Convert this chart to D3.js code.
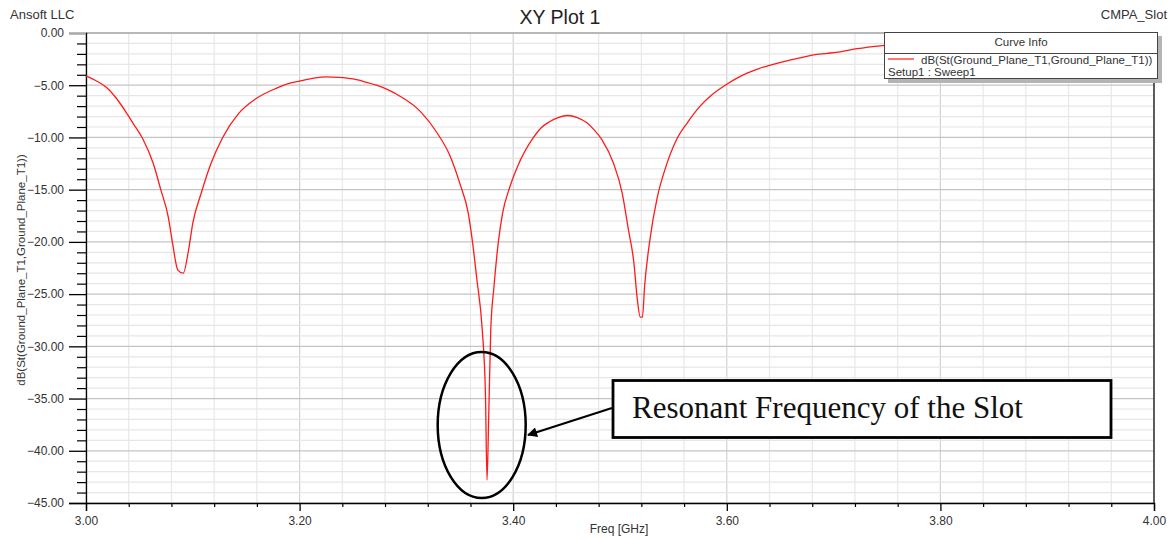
<!DOCTYPE html>
<html>
<head>
<meta charset="utf-8">
<script src="https://cdn.jsdelivr.net/npm/d3@7"></script>
<style>
  html, body { margin: 0; padding: 0; background: #fff; }
  svg { display: block; }
</style>
</head>
<body>
<svg id="chart" width="1176" height="540"></svg>
<script>
// ---- data ----
const freqGHz = [3.000, 3.009, 3.019, 3.028, 3.037, 3.045, 3.053, 3.063, 3.070, 3.077, 3.081, 3.086, 3.091, 3.096, 3.100, 3.108, 3.117, 3.128, 3.143, 3.159, 3.178, 3.188, 3.200, 3.212, 3.225, 3.237, 3.250, 3.262, 3.272, 3.283, 3.294, 3.313, 3.329, 3.341, 3.350, 3.358, 3.362, 3.366, 3.371, 3.374, 3.3755, 3.377, 3.379, 3.382, 3.386, 3.390, 3.397, 3.404, 3.419, 3.426, 3.434, 3.442, 3.451, 3.460, 3.469, 3.476, 3.483, 3.494, 3.502, 3.508, 3.513, 3.516, 3.519, 3.521, 3.523, 3.528, 3.535, 3.542, 3.553, 3.563, 3.575, 3.585, 3.600, 3.610, 3.619, 3.630, 3.640, 3.659, 3.670, 3.681, 3.694, 3.706, 3.722, 3.746, 3.800, 3.900, 4.000];
const s11dB   = [-4.1, -4.55, -5.2, -6.2, -7.5, -8.8, -10.1, -12.5, -15.0, -17.6, -20.1, -22.7, -23.0, -20.8, -18.2, -15.3, -12.5, -10.0, -7.7, -6.3, -5.3, -4.9, -4.6, -4.35, -4.2, -4.25, -4.4, -4.7, -5.0, -5.45, -6.05, -7.5, -9.6, -11.8, -14.4, -17.3, -20.1, -23.6, -28.4, -34.5, -42.8, -37.0, -28.4, -24.3, -20.1, -17.3, -14.7, -12.8, -10.0, -9.1, -8.5, -8.1, -7.9, -8.1, -8.6, -9.3, -10.2, -12.5, -15.3, -18.9, -22.0, -25.3, -27.2, -27.2, -24.3, -19.8, -15.7, -13.1, -10.2, -8.6, -7.0, -6.0, -4.9, -4.3, -3.85, -3.4, -3.1, -2.6, -2.35, -2.1, -1.95, -1.8, -1.5, -1.2, -0.9, -0.6, -0.4];
const xTickValues = [3.00, 3.20, 3.40, 3.60, 3.80, 4.00];
const yTickValues = [0, -5, -10, -15, -20, -25, -30, -35, -40, -45];
const titleText = "XY Plot 1";
const companyText = "Ansoft LLC";
const projectText = "CMPA_Slot";
const xLabel = "Freq [GHz]";
const yLabel = "dB(St(Ground_Plane_T1,Ground_Plane_T1))";
const legendTitle = "Curve Info";
const legendSeries = "dB(St(Ground_Plane_T1,Ground_Plane_T1))";
const legendSetup = "Setup1 : Sweep1";
const annotationText = "Resonant Frequency of the Slot";
const annotationPoint = {f: 3.3705, db: -37.8};

// ---- layout ----
const SANS = "'Liberation Sans', Arial, sans-serif";
const SERIF = "'Liberation Serif', 'Times New Roman', serif";
const svg = d3.select("#chart").style("font-family", SANS);
const pL = 86, pR = 1154, pT = 33, pB = 503;
const x = d3.scaleLinear().domain([3.0, 4.0]).range([pL, pR]);
const y = d3.scaleLinear().domain([0, -45]).range([pT, pB]);

// grid
const minorX = d3.range(0, 26).map(i => 3.0 + i * 0.04);
const minorY = d3.range(0, 46).map(i => -i);
const isMajorX = d => Math.abs(Math.round(d * 100) % 20) < 0.5;
const g = svg.append("g");
g.selectAll(".mx").data(minorX).enter().append("line")
  .attr("x1", d => x(d)).attr("x2", d => x(d)).attr("y1", pT).attr("y2", pB)
  .attr("stroke", d => isMajorX(d) ? "#d2d2d2" : "#e8e8e8").attr("stroke-width", 1.2);
g.selectAll(".my").data(minorY).enter().append("line")
  .attr("x1", pL).attr("x2", pR).attr("y1", d => y(d)).attr("y2", d => y(d))
  .attr("stroke", d => (d % 5 === 0) ? "#c4c4c4" : "#e6e6e6").attr("stroke-width", 1.2);

// frame
svg.append("line").attr("x1", pL).attr("x2", pR).attr("y1", pT).attr("y2", pT).attr("stroke", "#aaa").attr("stroke-width", 1.5);
svg.append("line").attr("x1", pR).attr("x2", pR).attr("y1", pT).attr("y2", pB).attr("stroke", "#000").attr("stroke-width", 1.2);

// y axis
const yAxis = d3.axisLeft(y).tickValues(yTickValues).tickFormat(d3.format(".2f")).tickSize(17).tickPadding(5);
const ya = svg.append("g").attr("transform", `translate(${pL},0)`).call(yAxis);
ya.attr("font-family", SANS);
ya.select(".domain").attr("stroke", "#000").attr("stroke-width", 1.3);
ya.selectAll(".tick line").attr("stroke", "#000").attr("stroke-width", 1.3);
ya.selectAll(".tick text").attr("font-size", 12).attr("fill", "#333");
ya.selectAll(".tick").filter(d => d === 0).select("line").attr("stroke", "#aaa");
const yMinor = d3.axisLeft(y).tickValues(minorY.filter(d => d % 5 !== 0)).tickSize(9).tickFormat("");
const ym = svg.append("g").attr("transform", `translate(${pL},0)`).call(yMinor);
ym.select(".domain").remove();
ym.selectAll(".tick line").attr("stroke", "#000").attr("stroke-width", 1.2);

// x axis
const xAxis = d3.axisBottom(x).tickValues(xTickValues).tickFormat(d3.format(".2f")).tickSize(8).tickPadding(5);
const xa = svg.append("g").attr("transform", `translate(0,${pB})`).call(xAxis);
xa.attr("font-family", SANS);
xa.select(".domain").attr("stroke", "#000").attr("stroke-width", 1.3);
xa.selectAll(".tick line").attr("stroke", "#000").attr("stroke-width", 1.3);
xa.selectAll(".tick text").attr("font-size", 12).attr("fill", "#333");
const xMinor = d3.axisBottom(x).tickValues(minorX.filter(d => !isMajorX(d))).tickSize(4).tickFormat("");
const xm = svg.append("g").attr("transform", `translate(0,${pB})`).call(xMinor);
xm.select(".domain").remove();
xm.selectAll(".tick line").attr("stroke", "#000").attr("stroke-width", 1.2);

// curve
const line = d3.line().x((d, i) => x(freqGHz[i])).y(d => y(d)).curve(d3.curveMonotoneX);
svg.append("path").datum(s11dB).attr("d", line)
  .attr("fill", "none").attr("stroke", "#ff1a1a").attr("stroke-width", 1.3);

// titles
svg.append("text").attr("x", 560).attr("y", 24).attr("text-anchor", "middle").attr("font-size", 19.5).attr("fill", "#222").text(titleText);
svg.append("text").attr("x", 10).attr("y", 19).attr("font-size", 13).attr("fill", "#333").text(companyText);
svg.append("text").attr("x", 1167).attr("y", 19).attr("text-anchor", "end").attr("font-size", 13).attr("fill", "#333").text(projectText);
svg.append("text").attr("x", 619).attr("y", 533).attr("text-anchor", "middle").attr("font-size", 12).attr("fill", "#333").text(xLabel);
svg.append("text").attr("transform", "translate(25,270) rotate(-90)").attr("text-anchor", "middle").attr("font-size", 11.5).attr("fill", "#333").text(yLabel);

// legend
const lg = svg.append("g");
lg.append("rect").attr("x", 888).attr("y", 36).attr("width", 274).attr("height", 47).attr("fill", "#b4b4b4");
lg.append("rect").attr("x", 884.5).attr("y", 32.5).attr("width", 273).attr("height", 46).attr("fill", "#fff").attr("stroke", "#444").attr("stroke-width", 1);
lg.append("line").attr("x1", 884.5).attr("x2", 1157.5).attr("y1", 53.5).attr("y2", 53.5).attr("stroke", "#444").attr("stroke-width", 1);
lg.append("text").attr("x", 1021).attr("y", 46).attr("text-anchor", "middle").attr("font-size", 11.5).attr("fill", "#333").text(legendTitle);
lg.append("line").attr("x1", 888).attr("x2", 914).attr("y1", 59).attr("y2", 59).attr("stroke", "#ff1a1a").attr("stroke-width", 1.2);
lg.append("text").attr("x", 921).attr("y", 63.5).attr("font-size", 11.5).attr("fill", "#333").text(legendSeries);
lg.append("text").attr("x", 888).attr("y", 75.5).attr("font-size", 11.5).attr("fill", "#333").text(legendSetup);

// annotation
const an = svg.append("g");
const ecx = x(annotationPoint.f);
an.append("ellipse").attr("cx", ecx).attr("cy", 425).attr("rx", 44).attr("ry", 73)
  .attr("fill", "none").attr("stroke", "#000").attr("stroke-width", 2.5);
svg.append("defs").append("marker").attr("id", "arr").attr("viewBox", "0 0 10 10")
  .attr("refX", 9).attr("refY", 5).attr("markerWidth", 7).attr("markerHeight", 5).attr("orient", "auto")
  .attr("markerUnits", "strokeWidth")
  .append("path").attr("d", "M0,0 L10,5 L0,10 z").attr("fill", "#000");
an.append("line").attr("x1", 612).attr("y1", 408).attr("x2", 528).attr("y2", 435)
  .attr("stroke", "#000").attr("stroke-width", 2).attr("marker-end", "url(#arr)");
an.append("rect").attr("x", 613).attr("y", 380.5).attr("width", 498).attr("height", 57)
  .attr("fill", "#fff").attr("stroke", "#000").attr("stroke-width", 2.8);
an.append("text").attr("x", 632).attr("y", 418).attr("font-family", SERIF)
  .attr("font-size", 31).attr("fill", "#111").text(annotationText);
</script>
</body>
</html>
